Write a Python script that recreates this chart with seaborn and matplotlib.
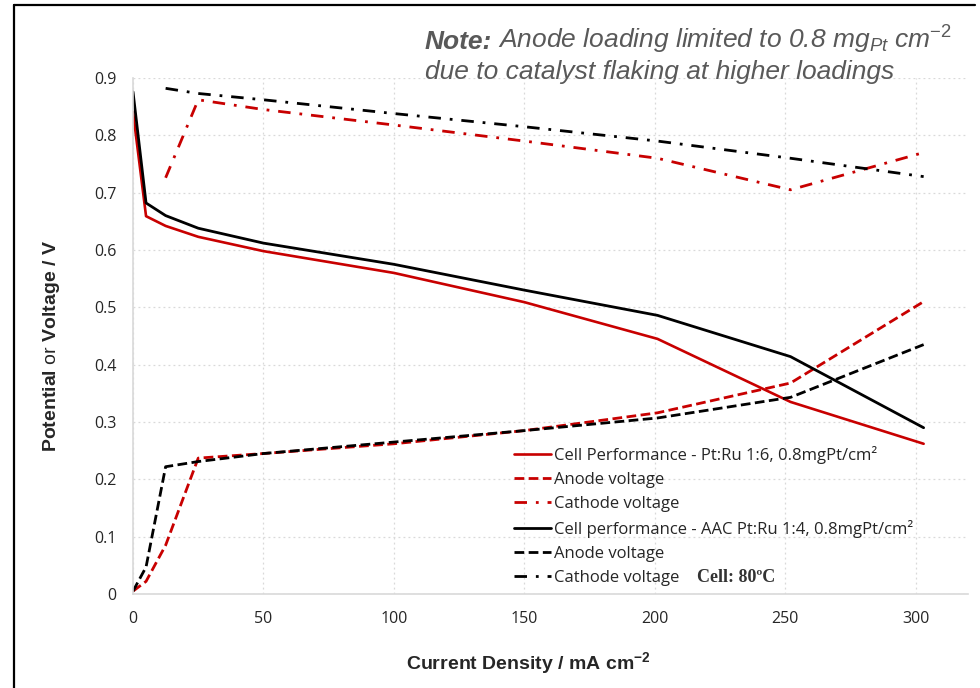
import matplotlib
matplotlib.use("Agg")
import matplotlib.pyplot as plt
from matplotlib.lines import Line2D
import seaborn as sns

# Current density (mA cm^-2)
current = [0, 5, 12.5, 25, 50, 100, 150, 201, 252, 303]
current_cathode = [12.5, 25, 50, 100, 150, 201, 252, 303]

# Pt:Ru 1:6, 0.8 mgPt/cm2
cell_16 = [0.841, 0.659, 0.642, 0.623, 0.598, 0.560, 0.509, 0.445, 0.335, 0.262]
anode_16 = [0.005, 0.022, 0.085, 0.237, 0.245, 0.262, 0.285, 0.316, 0.368, 0.510]
cathode_16 = [0.726, 0.862, 0.845, 0.818, 0.790, 0.760, 0.705, 0.770]

# AAC Pt:Ru 1:4, 0.8 mgPt/cm2
cell_14 = [0.876, 0.682, 0.660, 0.638, 0.612, 0.575, 0.530, 0.486, 0.414, 0.290]
anode_14 = [0.005, 0.047, 0.222, 0.231, 0.245, 0.265, 0.285, 0.307, 0.343, 0.435]
cathode_14 = [0.882, 0.873, 0.862, 0.838, 0.815, 0.790, 0.760, 0.728]

labels = [
    "Cell Performance - Pt:Ru 1:6, 0.8mgPt/cm\u00b2",
    "Anode voltage",
    "Cathode voltage",
    "Cell performance - AAC Pt:Ru 1:4, 0.8mgPt/cm\u00b2",
    "Anode voltage",
    "Cathode voltage",
]
x_ticks = [0, 50, 100, 150, 200, 250, 300]
y_ticks = [0, 0.1, 0.2, 0.3, 0.4, 0.5, 0.6, 0.7, 0.8, 0.9]

sns.set_theme(style="white")
plt.rcParams["font.family"] = ["Liberation Sans", "DejaVu Sans"]
plt.rcParams["mathtext.fontset"] = "custom"
plt.rcParams["mathtext.rm"] = "Liberation Sans"
plt.rcParams["mathtext.it"] = "Liberation Sans:italic"
plt.rcParams["mathtext.bf"] = "Liberation Sans:bold"

RED = "#C80000"
BLACK = "#000000"
GRID = "#D9D9D9"
TEXT = "#262626"

fig = plt.figure(figsize=(9.8, 6.88), dpi=100)
ax = fig.add_axes([133 / 980, 1 - 594 / 688, (968 - 133) / 980, (594 - 78) / 688])

dashed = (0, (3.5, 1.6))
dashdot = (0, (4.5, 3.2, 1, 3.2))

series = [
    (current, cell_16, RED, "-", 1.9),
    (current, anode_16, RED, dashed, 2.0),
    (current_cathode, cathode_16, RED, dashdot, 2.0),
    (current, cell_14, BLACK, "-", 2.0),
    (current, anode_14, BLACK, dashed, 2.0),
    (current_cathode, cathode_14, BLACK, dashdot, 2.0),
]
for (xs, ys, col, ls, lw), lab in zip(series, labels):
    sns.lineplot(x=xs, y=ys, ax=ax, color=col, linestyle=ls, linewidth=lw,
                 label=lab, sort=False, estimator=None)

ax.set_xlim(0, 320)
ax.set_ylim(0, 0.9)
ax.set_xticks(x_ticks)
ax.set_xticklabels([str(t) for t in x_ticks])
ax.set_yticks(y_ticks)
ax.set_yticklabels(["0"] + [f"{t:.1f}" for t in y_ticks[1:]])
ax.tick_params(axis="both", length=0, labelsize=11.5, labelcolor=TEXT)
ax.tick_params(axis="x", pad=12)
ax.tick_params(axis="y", pad=12)
for lab in ax.get_xticklabels() + ax.get_yticklabels():
    lab.set_fontfamily(["Open Sans", "DejaVu Sans"])

ax.grid(True, color=GRID, linestyle=(0, (1.5, 2.5)), linewidth=0.9)
ax.set_axisbelow(True)
for side in ("top", "right"):
    ax.spines[side].set_visible(False)
for side in ("left", "bottom"):
    ax.spines[side].set_color(GRID)
    ax.spines[side].set_linewidth(1.2)

ax.set_xlabel(r"Current Density / mA cm$^{\mathbf{-2}}$", fontsize=14,
              fontweight="bold", color=TEXT, va="center")
ax.xaxis.set_label_coords((528 - 133) / 835, (594 - 663) / 516)
ax.set_ylabel(r"$\mathbf{Potential}$ or $\mathbf{Voltage\ /\ V}$", fontsize=14,
              color=TEXT, va="center")
ax.yaxis.set_label_coords((52 - 133) / 835, (594 - 346) / 516)

leg = ax.legend(loc="upper left", bbox_to_anchor=((514 - 133) / 835, (594 - 446) / 516),
                frameon=False, fontsize=12, handlelength=2.2, handletextpad=0.18,
                labelspacing=0.48, borderaxespad=0, borderpad=0)
for t in leg.get_texts():
    t.set_fontfamily(["Open Sans", "DejaVu Sans"])
    t.set_color(TEXT)

ax.text((697 - 133) / 835, (594 - 578) / 516, "Cell: 80\u00baC", transform=ax.transAxes,
        fontsize=13, fontweight="bold", family=["Liberation Serif", "DejaVu Serif"],
        color="#333333", va="center", ha="left")

# note above the plot: bold "Note:" followed by italic remark
note_kw = dict(fontsize=19, fontstyle="italic", color="#595959", ha="left", va="baseline")
x0 = 425 / 980
y1 = 1 - 49 / 688
head = fig.text(x0, y1, "Note:", fontweight="bold", **note_kw)
renderer = fig.canvas.get_renderer()
w = head.get_window_extent(renderer).width / fig.bbox.width
fig.text(x0 + w + 6 / 980, y1,
         r"Anode loading limited to 0.8 mg$_{\mathit{Pt}}$ cm$^{-2}$", **note_kw)
fig.text(x0, 1 - 79 / 688, "due to catalyst flaking at higher loadings", **note_kw)

# outer frame edges
fig.add_artist(Line2D([14 / 980, 14 / 980], [0, 1 - 5 / 688], color="black",
                      linewidth=1.6, transform=fig.transFigure))
fig.add_artist(Line2D([14 / 980, 975 / 980], [1 - 5 / 688, 1 - 5 / 688], color="black",
                      linewidth=1.6, transform=fig.transFigure))

fig.savefig("out.png", dpi=100)
